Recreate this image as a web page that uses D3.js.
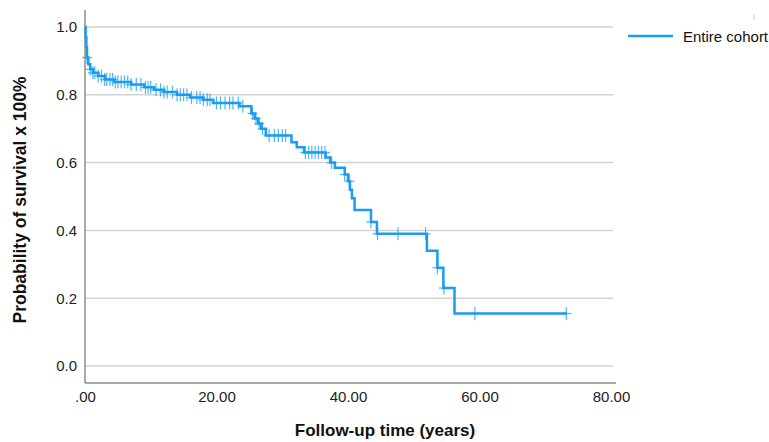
<!DOCTYPE html>
<html><head><meta charset="utf-8">
<script src="https://cdn.jsdelivr.net/npm/d3@7"></script>
<style>body{margin:0;background:#fff}svg{display:block}text{font-family:"Liberation Sans",Arial,sans-serif}</style>
</head><body>
<svg id="c" width="769" height="442"></svg>
<script>
// Kaplan-Meier step data (time in years, survival after event)
const eventTimes = [0, 0.1, 0.2, 0.3, 0.5, 0.8, 1.2, 2.0, 3.0, 4.5, 7.0, 9.0, 10.5, 12.0, 14.0, 16.0, 18.0, 19.5, 23.5,
  25.3, 25.8, 26.3, 26.8, 27.5, 31.4, 32.2, 33.3, 36.6, 37.3, 38.0, 39.5, 40.0, 40.3, 40.6, 41.0, 43.5, 44.4,
  52.0, 53.6, 54.5, 56.2];
const survival = [1.0, 0.97, 0.94, 0.91, 0.89, 0.875, 0.865, 0.855, 0.845, 0.838, 0.83, 0.822, 0.815, 0.808, 0.80, 0.792, 0.785, 0.776, 0.766,
  0.745, 0.73, 0.715, 0.70, 0.68, 0.66, 0.645, 0.63, 0.615, 0.60, 0.585, 0.565, 0.545, 0.52, 0.495, 0.46, 0.425, 0.39,
  0.34, 0.29, 0.23, 0.155];
const lastTime = 73.3;
const censorTimes = [0.3, 0.8, 1.2, 1.5, 2.0, 2.5, 3.0, 3.3, 3.8, 4.2, 4.6, 5.0, 5.5, 6.0, 6.5, 7.0, 7.8, 8.5, 9.2, 9.6,
  10.0, 10.8, 11.5, 12.0, 12.5, 13.3, 14.0, 14.5, 15.0, 15.5, 16.2, 17.0, 17.5, 18.0, 18.6, 19.0, 20.0, 20.6, 21.3, 22.0,
  22.5, 23.3, 24.0, 25.5, 26.0, 26.5, 27.0, 28.0, 28.8, 29.4, 30.0, 30.5, 33.5, 34.0, 34.5, 35.0, 35.5, 36.0, 36.5, 37.5,
  39.5, 40.2, 43.5, 44.5, 47.6, 51.8, 53.6, 54.6, 59.3, 73.2];
const yTicks = [0, 0.2, 0.4, 0.6, 0.8, 1.0];
const yTickLabels = ["0.0", "0.2", "0.4", "0.6", "0.8", "1.0"];
const xTicks = [0, 20, 40, 60, 80];
const xTickLabels = [".00", "20.00", "40.00", "60.00", "80.00"];
const seriesName = "Entire cohort";

const svg = d3.select("#c");
const pL = 85, pR = 613, pT = 10, pB = 383;
const x = d3.scaleLinear().domain([0, 80]).range([85, 611]);
const y = d3.scaleLinear().domain([-0.05, 1.05]).range([pB, pT]);
const blue = "#1a9cf0";

// gridlines
svg.append("g").selectAll("line").data(yTicks).join("line")
  .attr("x1", pL).attr("x2", pR)
  .attr("y1", d => y(d)).attr("y2", d => y(d))
  .attr("stroke", "#d2d2d2").attr("stroke-width", 1.5);

// axes
const yAxis = d3.axisLeft(y).tickValues(yTicks).tickSize(0).tickPadding(8)
  .tickFormat((d, i) => yTickLabels[i]);
const gy = svg.append("g").attr("transform", `translate(${pL},0)`).call(yAxis);
gy.select(".domain").attr("stroke", "#8c8c8c").attr("stroke-width", 1.5).attr("d", `M0,${pT}V${pB}`);
gy.selectAll("text").attr("font-size", 15).attr("fill", "#222").attr("font-family", "Liberation Sans, Arial");

const xAxis = d3.axisBottom(x).tickValues(xTicks).tickSize(0).tickPadding(8)
  .tickFormat((d, i) => xTickLabels[i]);
const gx = svg.append("g").attr("transform", `translate(0,${pB})`).call(xAxis);
gx.select(".domain").attr("stroke", "#8c8c8c").attr("stroke-width", 1.5).attr("d", `M${pL},0H${pR + 3}`);
gx.selectAll("text").attr("font-size", 15).attr("fill", "#222").attr("font-family", "Liberation Sans, Arial");

// KM step line
const pts = eventTimes.map((t, i) => [t, survival[i]]);
pts.push([lastTime, survival[survival.length - 1]]);
const line = d3.line().x(d => x(d[0])).y(d => y(d[1])).curve(d3.curveStepAfter);
svg.append("path").datum(pts).attr("d", line)
  .attr("fill", "none").attr("stroke", blue).attr("stroke-width", 2.5);

// censor marks
function survAt(t) {
  let s = survival[0];
  for (let i = 0; i < eventTimes.length; i++) if (eventTimes[i] <= t) s = survival[i];
  return s;
}
const cg = svg.append("g").attr("stroke", blue).attr("stroke-width", 1.2).attr("opacity", 0.75);
censorTimes.forEach(t => {
  const cx = x(t), cy = y(survAt(t));
  cg.append("line").attr("x1", cx).attr("x2", cx).attr("y1", cy - 6.5).attr("y2", cy + 6.5);
  cg.append("line").attr("x1", cx - 5).attr("x2", cx + 5).attr("y1", cy).attr("y2", cy);
});

// axis titles
svg.append("text").attr("x", 385).attr("y", 436).attr("text-anchor", "middle")
  .attr("font-size", 17).attr("font-weight", "bold").attr("fill", "#111").text("Follow-up time (years)");
svg.append("text").attr("transform", "translate(26,200) rotate(-90)").attr("text-anchor", "middle")
  .attr("font-size", 17.5).attr("font-weight", "bold").attr("fill", "#111").text("Probability of survival x 100%");

// legend
svg.append("line").attr("x1", 628).attr("x2", 673).attr("y1", 36).attr("y2", 36)
  .attr("stroke", blue).attr("stroke-width", 2.5);
svg.append("text").attr("x", 683).attr("y", 41.5).attr("font-size", 15).attr("fill", "#111").text(seriesName);
svg.append("line").attr("x1", 754).attr("x2", 754).attr("y1", 14).attr("y2", 20)
  .attr("stroke", "#ccc").attr("stroke-width", 1);
</script>
</body></html>
